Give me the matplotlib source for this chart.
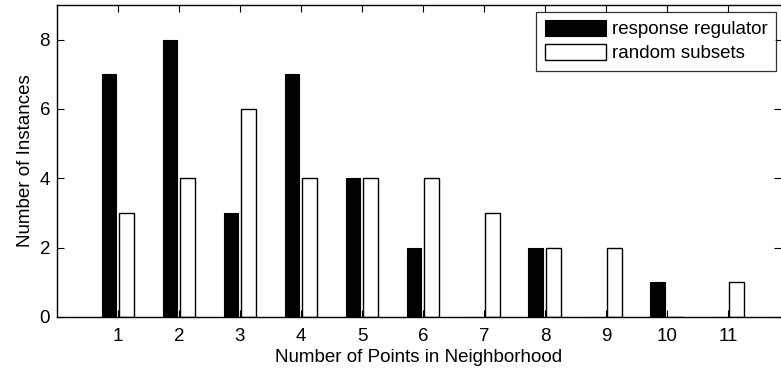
import numpy as np
import matplotlib
matplotlib.use('Agg')
import matplotlib.pyplot as plt

plt.rcParams['font.family'] = ['Liberation Sans', 'DejaVu Sans']

points = [1, 2, 3, 4, 5, 6, 7, 8, 9, 10, 11]
response_regulator = [7, 8, 3, 7, 4, 2, 0, 2, 0, 1, 0]
random_subsets = [3, 4, 6, 4, 4, 4, 3, 2, 2, 0, 1]

x = np.array(points)
width = 0.24

fig = plt.figure(figsize=(7.81, 3.72), dpi=100)
ax = fig.add_axes([0.073, 0.148, 0.927, 0.839])

ax.bar(x - 0.15, response_regulator, width, color='black', edgecolor='black',
       linewidth=0.8, label='response regulator')
ax.bar(x + 0.14, random_subsets, width, color='white', edgecolor='black',
       linewidth=1.0, label='random subsets')

ax.set_xlim(0, 11.87)
ax.set_ylim(0, 9)
ax.set_xticks(points)
ax.set_yticks([0, 2, 4, 6, 8])

ax.tick_params(direction='in', length=5, width=0.8, labelsize=13.5,
               top=True, right=True)
ax.tick_params(axis='x', pad=8)
ax.tick_params(axis='y', pad=5)
ax.spines['right'].set_visible(False)
for s in ['left', 'top', 'bottom']:
    ax.spines[s].set_linewidth(1.0)

ax.set_xlabel('Number of Points in Neighborhood', fontsize=13.5, labelpad=3)
ax.set_ylabel('Number of Instances', fontsize=13.5, labelpad=4)

leg = ax.legend(loc='upper right', bbox_to_anchor=(0.9935, 0.978), fontsize=13.5,
                frameon=True, fancybox=False, edgecolor='black',
                handlelength=3.3, handleheight=0.9, handletextpad=0.3,
                labelspacing=0.3, borderpad=0.45, borderaxespad=0)
leg.get_frame().set_linewidth(0.9)

fig.savefig('out.png', dpi=100)
